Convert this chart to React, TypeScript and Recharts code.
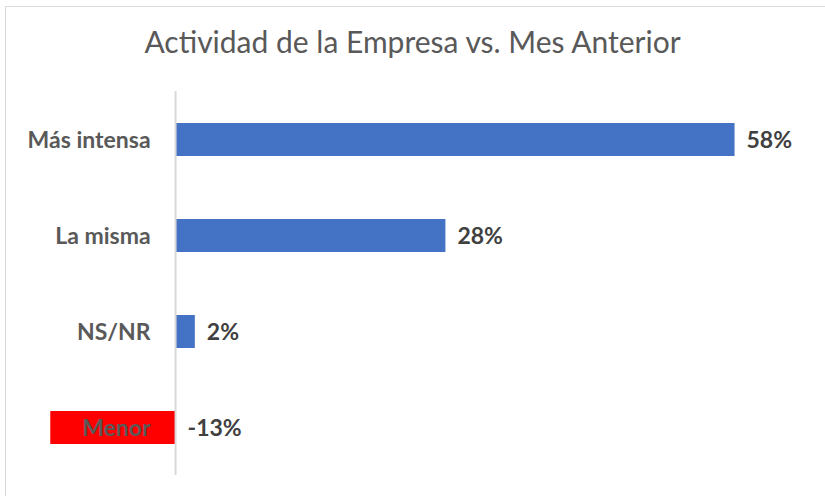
import React from "react";
import { BarChart, Bar, XAxis, YAxis, Cell, LabelList, ReferenceLine } from "recharts";

const categories = ["Más intensa", "La misma", "NS/NR", "Menor"];
const values = [58, 28, 2, -13];
const barColors = ["#4472C4", "#4472C4", "#4472C4", "#FF0000"];
const titleText = "Actividad de la Empresa vs. Mes Anterior";

const data = categories.map((name, i) => ({ name, value: values[i], color: barColors[i] }));

const FONT = "Lato, 'Open Sans', sans-serif";

const zeroX = (p: any) => {
  const x = Number(p.x);
  const w = Number(p.width);
  const v = Number(p.value);
  if (w < 0) return x;
  return v < 0 ? x + w : x;
};

const ValueLabel = (p: any) => {
  const x = Number(p.x);
  const w = Number(p.width);
  const y = Number(p.y) + Number(p.height) / 2;
  const v = Number(p.value);
  const z = zeroX(p);
  const end = v >= 0 ? (w < 0 ? x : x + w) : z;
  return (
    <text x={end + 12} y={y} dy="0.36em" textAnchor="start" fill="#404040"
      style={{ fontFamily: FONT, fontSize: 23, fontWeight: 700 }}>
      {`${v}%`}
    </text>
  );
};

const App = () => {
  return (
    <div style={{ position: "absolute", left: 0, top: 0, width: 825, height: 496, background: "#fff", overflow: "hidden" }}>
      <div style={{ position: "absolute", left: 5, top: 6, width: 840, height: 520, border: "1.5px solid #d9d9d9", boxSizing: "border-box" }} />
      <div style={{ position: "absolute", left: 0, top: 23, width: 825, textAlign: "center", fontFamily: FONT, fontSize: 30, lineHeight: "36px", color: "#595959" }}>
        {titleText}
      </div>
      <div style={{ position: "absolute", left: 0, top: 0 }}>
        <BarChart width={825} height={496} data={data} layout="vertical"
          margin={{ top: 91, right: 23, bottom: 21, left: 31 }} barSize={33}>
          <XAxis type="number" domain={[-15, 65]} hide />
          <YAxis type="category" dataKey="name" hide />
          <ReferenceLine x={0} stroke="#d9d9d9" strokeWidth={2} />
          <Bar dataKey="value" isAnimationActive={false}>
            {data.map((d, i) => (
              <Cell key={i} fill={d.color} />
            ))}
            <LabelList dataKey="value" content={ValueLabel} />
            <LabelList dataKey="name" content={(p: any) => {
              const z = zeroX({ ...p, value: data.find((d) => d.name === p.value)?.value ?? 0 });
              const y = Number(p.y) + Number(p.height) / 2;
              return (
                <text x={z - 25} y={y} dy="0.36em" textAnchor="end" fill="#595959"
                  style={{ fontFamily: FONT, fontSize: 23, fontWeight: 700 }}>
                  {p.value}
                </text>
              );
            }} />
          </Bar>
        </BarChart>
      </div>
    </div>
  );
};

export default App;
